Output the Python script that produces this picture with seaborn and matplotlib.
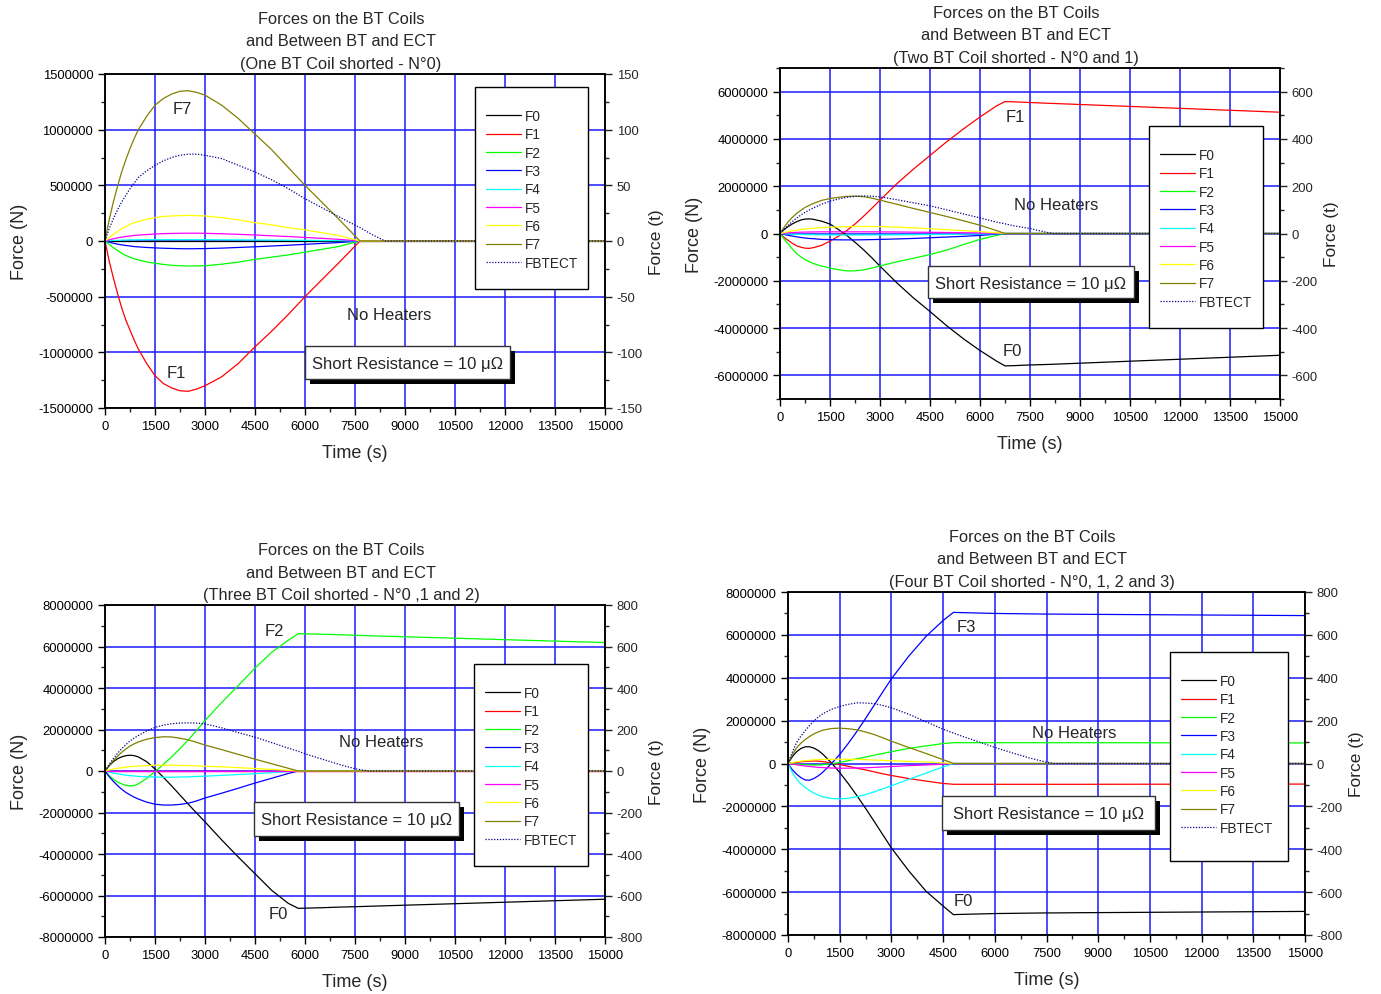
import matplotlib
matplotlib.use("Agg")
import numpy as np
import pandas as pd
import matplotlib.pyplot as plt
from matplotlib import ticker
from matplotlib.patches import Rectangle
import seaborn as sns

# ---------------------------------------------------------------- data
# Forces are given in meganewtons (MN); time in seconds.
SERIES = ["F0", "F1", "F2", "F3", "F4", "F5", "F6", "F7", "FBTECT"]

# One BT coil shorted - N°0
t_one = [0, 125, 250, 375, 500, 625, 750, 875, 1000,
         1250, 1500, 1750, 2000, 2250, 2500, 2750, 3000,
         3500, 4000, 4500, 5000, 5500, 6000, 6500, 7000,
         7650, 8000, 8400, 15000]
one_coil = {
    "F0": [0, 0, 0, 0, 0, 0, 0, 0, 0,
           0, 0, 0, 0, 0, 0, 0, 0,
           0, 0, 0, 0, 0, 0, 0, 0,
           0, 0, 0, 0],
    "F1": [0, -0.18, -0.33, -0.47, -0.60, -0.71, -0.80, -0.89, -0.97,
           -1.10, -1.21, -1.28, -1.32, -1.345, -1.35, -1.33, -1.30,
           -1.22, -1.10, -0.95, -0.81, -0.66, -0.50, -0.35, -0.20,
           0, 0, 0, 0],
    "F2": [0, -0.03, -0.06, -0.085, -0.11, -0.13, -0.145, -0.16, -0.17,
           -0.188, -0.20, -0.21, -0.218, -0.222, -0.225, -0.224, -0.222,
           -0.208, -0.19, -0.165, -0.145, -0.125, -0.10, -0.075, -0.05,
           0, 0, 0, 0],
    "F3": [0, -0.01, -0.02, -0.028, -0.035, -0.04, -0.045, -0.05, -0.053,
           -0.058, -0.062, -0.065, -0.067, -0.069, -0.07, -0.069, -0.068,
           -0.064, -0.058, -0.052, -0.045, -0.038, -0.03, -0.022, -0.014,
           0, 0, 0, 0],
    "F4": [0, 0.003, 0.005, 0.006, 0.008, 0.009, 0.01, 0.01, 0.011,
           0.012, 0.012, 0.012, 0.012, 0.012, 0.012, 0.012, 0.012,
           0.011, 0.01, 0.009, 0.008, 0.007, 0.006, 0.004, 0.003,
           0, 0, 0, 0],
    "F5": [0, 0.01, 0.02, 0.028, 0.035, 0.04, 0.045, 0.05, 0.053,
           0.058, 0.063, 0.066, 0.068, 0.069, 0.07, 0.07, 0.069,
           0.065, 0.06, 0.054, 0.047, 0.04, 0.032, 0.024, 0.015,
           0, 0, 0, 0],
    "F6": [0, 0.03, 0.06, 0.085, 0.11, 0.13, 0.15, 0.165, 0.175,
           0.195, 0.21, 0.22, 0.225, 0.228, 0.23, 0.228, 0.225,
           0.21, 0.19, 0.165, 0.145, 0.12, 0.10, 0.075, 0.05,
           0, 0, 0, 0],
    "F7": [0, 0.19, 0.35, 0.49, 0.62, 0.73, 0.83, 0.92, 1.00,
           1.12, 1.22, 1.28, 1.32, 1.345, 1.35, 1.335, 1.31,
           1.22, 1.10, 0.96, 0.82, 0.66, 0.50, 0.35, 0.20,
           0, 0, 0, 0],
    "FBTECT": [0, 0.11, 0.20, 0.28, 0.35, 0.41, 0.47, 0.52, 0.57,
               0.63, 0.68, 0.72, 0.75, 0.77, 0.78, 0.78, 0.77,
               0.74, 0.68, 0.62, 0.55, 0.47, 0.38, 0.30, 0.22,
               0.12, 0.06, 0, 0],
}

# Two BT coils shorted - N°0 and 1
t_two = [0, 125, 250, 375, 500, 625, 750, 875, 1000,
         1250, 1500, 1750, 2000, 2250, 2500, 2750, 3000,
         3500, 4000, 4500, 5000, 5500, 6000, 6500,
         6750, 7000, 7500, 8000, 8200, 15000]
two_coils = {
    "F0": [0, 0.17, 0.30, 0.41, 0.50, 0.57, 0.61, 0.62, 0.60,
           0.52, 0.40, 0.17, -0.08, -0.37, -0.68, -1.02, -1.38,
           -2.08, -2.72, -3.30, -3.90, -4.45, -4.95, -5.40,
           -5.60, -5.59, -5.56, -5.54, -5.53, -5.15],
    "F1": [0, -0.17, -0.30, -0.42, -0.52, -0.58, -0.62, -0.63, -0.60,
           -0.50, -0.32, -0.12, 0.12, 0.40, 0.72, 1.06, 1.41,
           2.10, 2.72, 3.30, 3.88, 4.42, 4.93, 5.40,
           5.58, 5.57, 5.54, 5.51, 5.50, 5.13],
    "F2": [0, -0.24, -0.45, -0.66, -0.85, -0.99, -1.10, -1.19, -1.27,
           -1.38, -1.46, -1.53, -1.58, -1.58, -1.54, -1.46, -1.37,
           -1.20, -1.05, -0.89, -0.70, -0.47, -0.25, -0.08,
           0, 0, 0, 0, 0, 0],
    "F3": [0, -0.04, -0.08, -0.11, -0.14, -0.17, -0.19, -0.21, -0.22,
           -0.25, -0.26, -0.268, -0.27, -0.27, -0.265, -0.258, -0.25,
           -0.23, -0.21, -0.18, -0.15, -0.12, -0.08, -0.03,
           0, 0, 0, 0, 0, 0],
    "F4": [0, -0.01, -0.02, -0.028, -0.035, -0.04, -0.045, -0.049, -0.052,
           -0.057, -0.06, -0.061, -0.062, -0.062, -0.062, -0.061, -0.06,
           -0.056, -0.05, -0.044, -0.037, -0.029, -0.02, -0.008,
           0, 0, 0, 0, 0, 0],
    "F5": [0, 0.016, 0.03, 0.04, 0.05, 0.055, 0.06, 0.063, 0.065,
           0.07, 0.07, 0.07, 0.07, 0.07, 0.07, 0.069, 0.068,
           0.063, 0.057, 0.05, 0.042, 0.033, 0.022, 0.009,
           0, 0, 0, 0, 0, 0],
    "F6": [0, 0.04, 0.08, 0.11, 0.14, 0.17, 0.19, 0.21, 0.22,
           0.25, 0.27, 0.28, 0.29, 0.295, 0.30, 0.295, 0.29,
           0.27, 0.24, 0.20, 0.16, 0.12, 0.08, 0.03,
           0, 0, 0, 0, 0, 0],
    "F7": [0, 0.27, 0.50, 0.69, 0.85, 0.98, 1.10, 1.19, 1.27,
           1.40, 1.48, 1.53, 1.57, 1.58, 1.56, 1.50, 1.41,
           1.24, 1.06, 0.89, 0.72, 0.54, 0.35, 0.12,
           0, 0, 0, 0, 0, 0],
    "FBTECT": [0, 0.18, 0.35, 0.51, 0.65, 0.78, 0.90, 0.99, 1.08,
               1.24, 1.37, 1.46, 1.53, 1.57, 1.59, 1.58, 1.55,
               1.43, 1.30, 1.17, 1.00, 0.83, 0.66, 0.48,
               0.41, 0.33, 0.21, 0.05, 0, 0],
}

# Three BT coils shorted - N°0, 1 and 2
t_three = [0, 125, 250, 375, 500, 625, 750, 875, 1000,
           1250, 1500, 1750, 2000, 2250, 2500, 2750, 3000,
           3500, 4000, 4500, 5000, 5500,
           5800, 6000, 6500, 7000, 7500, 7900, 15000]
three_coils = {
    "F0": [0, 0.25, 0.45, 0.59, 0.68, 0.74, 0.76, 0.74, 0.68,
           0.45, 0.10, -0.30, -0.72, -1.16, -1.60, -2.03, -2.45,
           -3.32, -4.15, -4.95, -5.75, -6.38,
           -6.62, -6.61, -6.59, -6.56, -6.54, -6.52, -6.18],
    "F1": [0, 0, 0, 0, 0, 0, 0, 0, 0,
           0, 0, 0, 0, 0, 0, 0, 0,
           0, 0, 0, 0, 0,
           0, 0, 0, 0, 0, 0, 0],
    "F2": [0, -0.22, -0.40, -0.53, -0.62, -0.69, -0.72, -0.70, -0.62,
           -0.36, -0.03, 0.32, 0.68, 1.08, 1.50, 1.96, 2.43,
           3.30, 4.12, 4.96, 5.72, 6.30,
           6.62, 6.61, 6.59, 6.57, 6.54, 6.52, 6.19],
    "F3": [0, -0.27, -0.50, -0.70, -0.88, -1.03, -1.15, -1.26, -1.35,
           -1.50, -1.60, -1.64, -1.64, -1.61, -1.55, -1.44, -1.30,
           -1.07, -0.83, -0.58, -0.35, -0.12,
           0, 0, 0, 0, 0, 0, 0],
    "F4": [0, -0.05, -0.10, -0.14, -0.17, -0.20, -0.22, -0.24, -0.26,
           -0.28, -0.29, -0.30, -0.30, -0.29, -0.28, -0.265, -0.25,
           -0.21, -0.17, -0.13, -0.08, -0.03,
           0, 0, 0, 0, 0, 0, 0],
    "F5": [0, 0, 0, 0, 0, 0, 0, 0, 0,
           0, 0, 0, 0, 0, 0, 0, 0,
           0, 0, 0, 0, 0,
           0, 0, 0, 0, 0, 0, 0],
    "F6": [0, 0.05, 0.10, 0.13, 0.16, 0.19, 0.21, 0.23, 0.24,
           0.26, 0.275, 0.28, 0.28, 0.27, 0.26, 0.245, 0.23,
           0.20, 0.16, 0.12, 0.08, 0.03,
           0, 0, 0, 0, 0, 0, 0],
    "F7": [0, 0.27, 0.50, 0.71, 0.90, 1.06, 1.20, 1.31, 1.40,
           1.53, 1.61, 1.65, 1.64, 1.58, 1.50, 1.38, 1.25,
           1.03, 0.80, 0.57, 0.35, 0.13,
           0, 0, 0, 0, 0, 0, 0],
    "FBTECT": [0, 0.32, 0.60, 0.85, 1.07, 1.27, 1.45, 1.59, 1.71,
               1.93, 2.10, 2.21, 2.28, 2.31, 2.32, 2.31, 2.27,
               2.08, 1.85, 1.63, 1.37, 1.10,
               0.95, 0.83, 0.58, 0.33, 0.11, 0, 0],
}

# Four BT coils shorted - N°0, 1, 2 and 3
t_four = [0, 125, 250, 375, 500, 625, 750, 875, 1000,
          1250, 1500, 1750, 2000, 2250, 2500, 2750, 3000,
          3500, 4000, 4500,
          4800, 5000, 5500, 6000, 6500, 7000, 7500, 7700, 8500, 15000]
four_coils = {
    "F0": [0, 0.32, 0.55, 0.70, 0.78, 0.78, 0.72, 0.61, 0.45,
           0.05, -0.42, -0.94, -1.50, -2.09, -2.70, -3.32, -3.94,
           -5.00, -5.95, -6.65,
           -7.05, -7.04, -7.02, -7.00, -6.99, -6.98, -6.97, -6.97, -6.96, -6.90],
    "F1": [0, 0.03, 0.05, 0.08, 0.10, 0.11, 0.12, 0.11, 0.09,
           0.03, -0.05, -0.13, -0.22, -0.30, -0.39, -0.48, -0.56,
           -0.70, -0.82, -0.93,
           -0.97, -0.97, -0.97, -0.97, -0.97, -0.97, -0.97, -0.97, -0.97, -0.96],
    "F2": [0, -0.015, -0.03, -0.045, -0.06, -0.065, -0.07, -0.068, -0.06,
           -0.02, 0.05, 0.13, 0.22, 0.30, 0.39, 0.47, 0.55,
           0.70, 0.82, 0.93,
           0.97, 0.97, 0.97, 0.97, 0.97, 0.97, 0.97, 0.97, 0.97, 0.96],
    "F3": [0, -0.29, -0.50, -0.66, -0.77, -0.78, -0.70, -0.58, -0.42,
           -0.02, 0.42, 0.94, 1.50, 2.10, 2.72, 3.34, 3.95,
           5.00, 5.92, 6.67,
           7.05, 7.04, 7.02, 7.00, 6.99, 6.98, 6.97, 6.97, 6.96, 6.90],
    "F4": [0, -0.42, -0.73, -0.95, -1.12, -1.26, -1.38, -1.47, -1.55,
           -1.63, -1.65, -1.62, -1.55, -1.45, -1.32, -1.18, -1.04,
           -0.74, -0.45, -0.16,
           0, 0, 0, 0, 0, 0, 0, 0, 0, 0],
    "F5": [0, -0.03, -0.06, -0.09, -0.12, -0.14, -0.16, -0.18, -0.19,
           -0.21, -0.22, -0.22, -0.21, -0.20, -0.18, -0.16, -0.14,
           -0.10, -0.07, -0.03,
           0, 0, 0, 0, 0, 0, 0, 0, 0, 0],
    "F6": [0, 0.04, 0.08, 0.11, 0.13, 0.15, 0.17, 0.18, 0.19,
           0.20, 0.20, 0.20, 0.19, 0.18, 0.16, 0.145, 0.13,
           0.10, 0.07, 0.03,
           0, 0, 0, 0, 0, 0, 0, 0, 0, 0],
    "F7": [0, 0.42, 0.73, 0.95, 1.12, 1.26, 1.38, 1.47, 1.55,
           1.63, 1.65, 1.62, 1.57, 1.47, 1.35, 1.20, 1.04,
           0.75, 0.47, 0.18,
           0, 0, 0, 0, 0, 0, 0, 0, 0, 0],
    "FBTECT": [0, 0.53, 0.98, 1.28, 1.53, 1.77, 1.98, 2.16, 2.31,
               2.52, 2.66, 2.76, 2.83, 2.82, 2.79, 2.71, 2.60,
               2.30, 1.95, 1.60,
               1.42, 1.30, 1.03, 0.75, 0.50, 0.26, 0.06, 0, 0, 0],
}

# ---------------------------------------------------------------- style
COLORS = {"F0": "#000000", "F1": "#ff0000", "F2": "#00ff00", "F3": "#0000ff",
          "F4": "#00ffff", "F5": "#ff00ff", "F6": "#ffff00", "F7": "#808000",
          "FBTECT": "#00008c"}

W, H = 1381, 995
sns.set_style("ticks")
plt.rcParams["font.family"] = ["Liberation Sans", "DejaVu Sans"]
plt.rcParams["axes.unicode_minus"] = False
plt.rcParams["xtick.direction"] = "out"
plt.rcParams["ytick.direction"] = "out"

fig = plt.figure(figsize=(W / 100, H / 100), dpi=100)
fig.patch.set_facecolor("white")


def fx(x):
    return x / W


def fy(y):
    return 1 - y / H


def fig_rect(x0, y0, x1, y1, **kw):
    r = Rectangle((fx(x0), fy(y1)), (x1 - x0) / W, (y1 - y0) / H,
                  transform=fig.transFigure, **kw)
    fig.add_artist(r)
    return r


def int_fmt(v, pos):
    return f"{int(round(v))}"


def draw_panel(times, forces, box, ylim, ystep, title, legend_box, res_box,
               heaters_xy, curve_labels):
    left, top, right, bottom = box
    ax = fig.add_axes([fx(left), fy(bottom), (right - left) / W, (bottom - top) / H])

    df = pd.DataFrame({"Time (s)": times})
    for name in SERIES:
        df[name] = np.asarray(forces[name], dtype=float) * 1e6
    long = df.melt(id_vars="Time (s)", var_name="Series", value_name="Force (N)")

    for name in SERIES:
        sub = long[long["Series"] == name]
        style = (0, (1, 1.3)) if name == "FBTECT" else "-"
        sns.lineplot(data=sub, x="Time (s)", y="Force (N)", ax=ax,
                     color=COLORS[name], linewidth=0.9, linestyle=style,
                     label=name, errorbar=None)
    handles, labels = ax.get_legend_handles_labels()
    if ax.get_legend() is not None:
        ax.get_legend().remove()

    ax.set_xlim(0, 15000)
    ax.set_ylim(-ylim, ylim)
    ax.xaxis.set_major_locator(ticker.MultipleLocator(1500))
    ax.xaxis.set_minor_locator(ticker.MultipleLocator(750))
    ax.yaxis.set_major_locator(ticker.MultipleLocator(ystep))
    ax.yaxis.set_minor_locator(ticker.MultipleLocator(ystep / 2))
    ax.xaxis.set_major_formatter(ticker.FuncFormatter(int_fmt))
    ax.yaxis.set_major_formatter(ticker.FuncFormatter(int_fmt))
    ax.set_axisbelow(True)
    ax.grid(True, which="major", color="#1a1aff", linewidth=1.1)
    ax.tick_params(which="major", length=5, width=1, labelsize=9.4, colors="black")
    ax.tick_params(which="minor", length=3, width=1)
    for sp in ax.spines.values():
        sp.set_visible(True)
        sp.set_color("black")
        sp.set_linewidth(1.1)
    ax.set_xlabel("Time (s)", fontsize=13, labelpad=9)
    ax.set_ylabel("Force (N)", fontsize=13, labelpad=7)

    ax2 = ax.twinx()
    tl = ylim / 1e4
    ax2.set_ylim(-tl, tl)
    ax2.yaxis.set_major_locator(ticker.MultipleLocator(ystep / 1e4))
    ax2.yaxis.set_minor_locator(ticker.MultipleLocator(ystep / 2e4))
    ax2.yaxis.set_major_formatter(ticker.FuncFormatter(int_fmt))
    ax2.tick_params(which="major", length=5, width=1, labelsize=9.4)
    ax2.tick_params(which="minor", length=3, width=1)
    for sp in ax2.spines.values():
        sp.set_color("black")
        sp.set_linewidth(1.1)
    ax2.set_ylabel("Force (t)", fontsize=12.5, labelpad=4.5)

    ax.annotate(title, xy=(0.472, 1.0), xycoords="axes fraction",
                xytext=(0, 33), textcoords="offset pixels", ha="center",
                va="center", fontsize=11.8, linespacing=1.63)

    # legend with a plain black frame
    lx0, ly0, lx1, ly1 = legend_box
    fig_rect(lx0, ly0, lx1, ly1, facecolor="white", edgecolor="black",
             linewidth=1.0, zorder=4)
    fig.legend(handles, labels, loc="upper left",
               bbox_to_anchor=(fx(lx0 + 11), fy(ly0 + 22)), frameon=False,
               fontsize=9.8, handlelength=2.55, handletextpad=0.3,
               labelspacing=0.32, borderpad=0, borderaxespad=0)

    # resistance annotation box with a drop shadow
    rx0, ry0, rx1, ry1 = res_box
    fig_rect(rx0 + 5, ry0 + 5, rx1 + 5, ry1 + 5, facecolor="black",
             edgecolor="black", linewidth=0, zorder=4)
    fig_rect(rx0, ry0, rx1, ry1, facecolor="white", edgecolor="#333333",
             linewidth=1.0, zorder=4.1)
    fig.text(fx((rx0 + rx1) / 2), fy((ry0 + ry1) / 2 + 1),
             "Short Resistance = 10 \u03bc\u03a9", ha="center", va="center",
             fontsize=12, zorder=4.2)

    fig.text(fx(heaters_xy[0]), fy(heaters_xy[1]), "No Heaters", ha="center",
             va="center", fontsize=12)
    for text, (x, y) in curve_labels:
        fig.text(fx(x), fy(y), text, ha="center", va="center", fontsize=12)


draw_panel(t_one, one_coil, (105, 75, 605, 409), 1.5e6, 5e5,
           "Forces on the BT Coils\nand Between BT and ECT\n(One BT Coil shorted - N\u00b00)",
           (475, 88, 588, 290), (305, 347, 510, 380), (389, 316),
           [("F7", (182, 110)), ("F1", (176, 373))])

draw_panel(t_two, two_coils, (780, 69, 1280, 400), 7e6, 2e6,
           "Forces on the BT Coils\nand Between BT and ECT\n(Two BT Coil shorted - N\u00b00 and 1)",
           (1149, 127, 1263, 329), (928, 267, 1134, 299), (1056, 205),
           [("F1", (1015, 118)), ("F0", (1012, 352))])

draw_panel(t_three, three_coils, (105, 606, 605, 938), 8e6, 2e6,
           "Forces on the BT Coils\nand Between BT and ECT\n(Three BT Coil shorted - N\u00b00 ,1 and 2)",
           (474, 665, 588, 867), (254, 803, 459, 837), (381, 743),
           [("F2", (274, 631)), ("F0", (278, 915))])

draw_panel(t_four, four_coils, (788, 593, 1305, 936), 8e6, 2e6,
           "Forces on the BT Coils\nand Between BT and ECT\n(Four BT Coil shorted - N\u00b00, 1, 2 and 3)",
           (1170, 653, 1288, 862), (942, 797, 1155, 831), (1074, 733),
           [("F3", (966, 627)), ("F0", (963, 902))])

fig.savefig("out.png", dpi=100, facecolor="white")
